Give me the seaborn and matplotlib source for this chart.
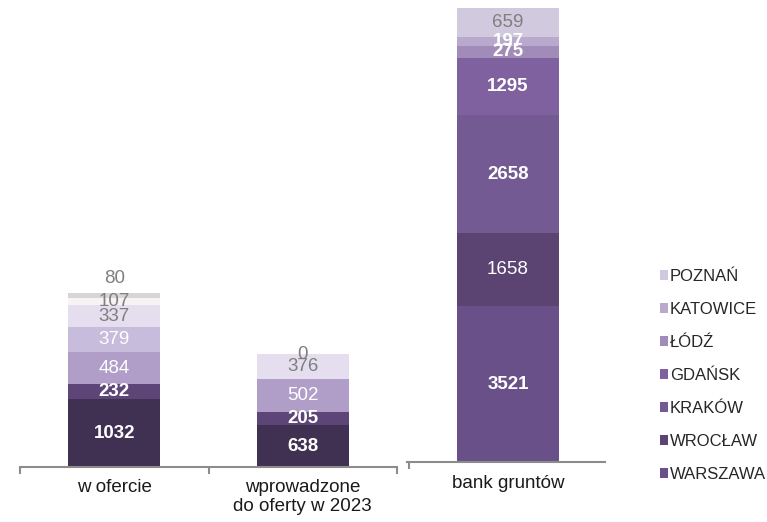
import seaborn as sns
import matplotlib.pyplot as plt
import pandas as pd
from matplotlib.patches import Patch

sns.set_theme(style="white")
plt.rcParams['font.family'] = ['Liberation Sans', 'DejaVu Sans']

cities = ["WARSZAWA", "WROCŁAW", "KRAKÓW", "GDAŃSK", "ŁÓDŹ", "KATOWICE", "POZNAŃ"]

# left panel: offer and newly introduced
left_cats = ["w ofercie", "wprowadzone\ndo oferty w 2023"]
left_values = {
    "WARSZAWA": [1032, 638],
    "WROCŁAW": [232, 205],
    "KRAKÓW": [484, 502],
    "GDAŃSK": [379, 0],
    "ŁÓDŹ": [337, 376],
    "KATOWICE": [107, 0],
    "POZNAŃ": [80, 0],
}
left_labels = {
    "WARSZAWA": ["1032", "638"],
    "WROCŁAW": ["232", "205"],
    "KRAKÓW": ["484", "502"],
    "GDAŃSK": ["379", ""],
    "ŁÓDŹ": ["337", "376"],
    "KATOWICE": ["107", ""],
    "POZNAŃ": ["80", "0"],
}

# right panel: land bank
right_cats = ["bank gruntów"]
right_values = {
    "WARSZAWA": [3521],
    "WROCŁAW": [1658],
    "KRAKÓW": [2658],
    "GDAŃSK": [1295],
    "ŁÓDŹ": [275],
    "KATOWICE": [197],
    "POZNAŃ": [659],
}

left_colors = {
    "WARSZAWA": "#403152", "WROCŁAW": "#5d4677", "KRAKÓW": "#b09ec9",
    "GDAŃSK": "#c8bcdc", "ŁÓDŹ": "#e4deee", "KATOWICE": "#f9f2f2", "POZNAŃ": "#d6d6d6",
}
right_colors = {
    "WARSZAWA": "#6a5088", "WROCŁAW": "#5b4472", "KRAKÓW": "#735a92",
    "GDAŃSK": "#7f61a0", "ŁÓDŹ": "#a18cb9", "KATOWICE": "#b9a9cd", "POZNAŃ": "#d1c9dd",
}
# label styles: (colour, bold)
left_text = {
    "WARSZAWA": ("white", True), "WROCŁAW": ("white", True), "KRAKÓW": ("white", False),
    "GDAŃSK": ("white", False), "ŁÓDŹ": ("#7f7f7f", False), "KATOWICE": ("#7f7f7f", False),
    "POZNAŃ": ("#7f7f7f", False),
}
right_text = {
    "WARSZAWA": ("white", True), "WROCŁAW": ("white", False), "KRAKÓW": ("white", True),
    "GDAŃSK": ("white", True), "ŁÓDŹ": ("white", True), "KATOWICE": ("white", True),
    "POZNAŃ": ("#7f7f7f", False),
}

W, H = 767, 522
fig = plt.figure(figsize=(W / 100, H / 100), dpi=100)
ax1 = fig.add_axes([20 / W, (H - 467) / H, 377 / W, 459 / H])
ax2 = fig.add_axes([407 / W, (H - 462) / H, 198 / W, 454 / H])


def stacked(ax, cats, values, colors, texts, labels, width, ymax, extra_dy=None):
    bottom = [0] * len(cats)
    for city in cities:
        vals = values[city]
        sns.barplot(x=cats, y=vals, bottom=bottom, color=colors[city], width=width,
                    saturation=1, linewidth=0, ax=ax, order=cats)
        col, bold = texts[city]
        for i, v in enumerate(vals):
            lab = labels[city][i]
            if lab == "":
                continue
            y = bottom[i] + v / 2
            dy = 0
            if extra_dy is not None and city in extra_dy:
                dy = extra_dy[city][i]
            ax.annotate(lab, (i, y), xytext=(0, dy), textcoords="offset points",
                        ha="center", va="center", color=col, fontsize=13.5,
                        fontweight="bold" if bold else "normal")
        bottom = [b + v for b, v in zip(bottom, vals)]
    ax.set_ylim(0, ymax)
    ax.set_xlim(-0.5, len(cats) - 0.5)
    ax.set_yticks([])
    ax.set_ylabel("")
    for s in ["top", "right", "left"]:
        ax.spines[s].set_visible(False)
    ax.spines["bottom"].set_color("#8c8c8c")
    ax.spines["bottom"].set_linewidth(1.5)
    ax.set_xticks(range(len(cats)))
    ax.set_xticklabels(cats, fontsize=13.5, color="#1a1a1a", linespacing=1.1)
    ax.set_xticks([i - 0.5 for i in range(len(cats) + 1)], minor=True)
    ax.tick_params(axis="x", which="major", length=0, pad=9)
    ax.tick_params(axis="x", which="minor", length=5, width=1.5, color="#8c8c8c",
                   direction="out", bottom=True)


stacked(ax1, left_cats, left_values, left_colors, left_text, left_labels, 0.49, 6993,
        extra_dy={"POZNAŃ": [12, 0]})
right_labels = {c: [str(v) for v in right_values[c]] for c in cities}
stacked(ax2, right_cats, right_values, right_colors, right_text, right_labels, 0.52, 10263)
ax2.set_xlim(-0.51, 0.49)

handles = [Patch(facecolor=right_colors[c], edgecolor="none") for c in cities[::-1]]
fig.legend(handles, cities[::-1], loc="upper left", bbox_to_anchor=(645 / W, (H - 254) / H),
           frameon=False, fontsize=12, handlelength=0.5, handleheight=0.5,
           handletextpad=0.1, labelspacing=1.08, labelcolor="#262626")

fig.savefig("out.png", dpi=100)
